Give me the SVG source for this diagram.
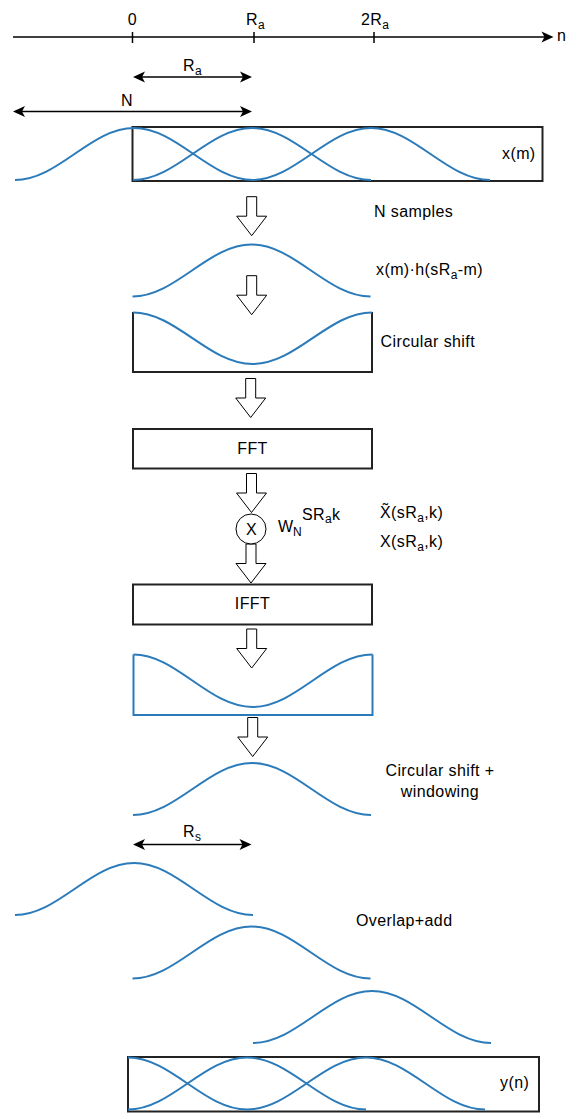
<svg xmlns="http://www.w3.org/2000/svg" xmlns:xlink="http://www.w3.org/1999/xlink" width="578" height="1119" viewBox="0 0 578 1119">
<style>
text{font-family:"Liberation Sans",Arial,sans-serif;font-size:16px;fill:#000;letter-spacing:0.4px}
.sub{font-size:12px}
.ax{stroke:#000;stroke-width:1.5;fill:none}
.box{stroke:#222;stroke-width:2;fill:none}
.wave{stroke:#2b7bba;stroke-width:2;fill:none}
.blk{stroke:#000;stroke-width:1;fill:#fff}
.mid{text-anchor:middle}
</style>
<defs>
<marker id="ah" viewBox="-13 -7 14 14" markerWidth="14" markerHeight="14" refX="-3" refY="0" orient="auto-start-reverse" markerUnits="userSpaceOnUse">
<path d="M0,0 L-12,-5.5 L-9,0 L-12,5.5 Z" fill="#000"/>
</marker>
<path id="bump" d="M0,0 C43.3,0 75.7,-52 119,-52 C162.3,-52 194.7,0 238,0"/>
<path id="harrow" d="M-5,0 L5,0 L5,19.5 L15,19.5 L0,39 L-15,19.5 L-5,19.5 Z"/>
</defs>

<g id="axis">
<line class="ax" x1="13" y1="37" x2="550.5" y2="37" marker-end="url(#ah)"/>
<line class="ax" x1="132.5" y1="32" x2="132.5" y2="43"/>
<line class="ax" x1="254" y1="32" x2="254" y2="43"/>
<line class="ax" x1="374" y1="32" x2="374" y2="43"/>
<text x="132.5" y="25" class="mid">0</text>
<text x="246" y="25">R<tspan class="sub" dy="3.5">a</tspan></text>
<text x="361" y="25">2R<tspan class="sub" dy="3.5">a</tspan></text>
<text x="557" y="41">n</text>
</g>

<g id="connectors">
<line class="ax" x1="136" y1="77" x2="249" y2="77" marker-start="url(#ah)" marker-end="url(#ah)"/>
<line class="ax" x1="16" y1="111.5" x2="249" y2="111.5" marker-start="url(#ah)" marker-end="url(#ah)"/>
<line class="ax" x1="136" y1="844.5" x2="248.5" y2="844.5" marker-start="url(#ah)" marker-end="url(#ah)"/>
<use xlink:href="#harrow" href="#harrow" class="blk" transform="translate(251.7,196.7)"/>
<use xlink:href="#harrow" href="#harrow" class="blk" transform="translate(251.7,275.7)"/>
<use xlink:href="#harrow" href="#harrow" class="blk" transform="translate(250.7,378.5)"/>
<use xlink:href="#harrow" href="#harrow" class="blk" transform="translate(251.5,473.5)"/>
<use xlink:href="#harrow" href="#harrow" class="blk" transform="translate(251,544)"/>
<use xlink:href="#harrow" href="#harrow" class="blk" transform="translate(251.7,629)"/>
<use xlink:href="#harrow" href="#harrow" class="blk" transform="translate(252.7,717.5)"/>
</g>

<g id="labels">
<text x="183" y="71">R<tspan class="sub" dy="3.5">a</tspan></text>
<text x="121" y="106">N</text>
<text x="374" y="217">N samples</text>
<text x="376" y="275">x(m)·h(sR<tspan class="sub" dy="3.5">a</tspan><tspan dy="-3.5">-m)</tspan></text>
<text x="380.5" y="347">Circular shift</text>
<text x="380" y="518">X̃(sR<tspan class="sub" dy="3.5">a</tspan><tspan dy="-3.5">,k)</tspan></text>
<text x="380" y="547">X(sR<tspan class="sub" dy="3.5">a</tspan><tspan dy="-3.5">,k)</tspan></text>
<text><tspan x="278" y="532">W</tspan><tspan class="sub" x="293" y="535.5">N</tspan><tspan x="302" y="519.5">SR</tspan><tspan class="sub" y="523">a</tspan><tspan y="519.5">k</tspan></text>
<text x="440" y="776" class="mid">Circular shift +</text>
<text x="440" y="797" class="mid">windowing</text>
<text x="183" y="837">R<tspan class="sub" dy="3.5">s</tspan></text>
<text x="356" y="926">Overlap+add</text>
</g>

<g id="node-xm">
<rect class="box" x="132.5" y="127" width="410" height="54"/>
<use xlink:href="#bump" href="#bump" class="wave" transform="translate(15,180)"/>
<use xlink:href="#bump" href="#bump" class="wave" transform="translate(133,180)"/>
<use xlink:href="#bump" href="#bump" class="wave" transform="translate(252,180)"/>
<text x="502" y="159">x(m)</text>
</g>

<g id="node-windowed">
<use xlink:href="#bump" href="#bump" class="wave" transform="translate(132.5,296.5)"/>
</g>

<g id="node-circshift">
<path class="box" d="M133,312 V372 H372 V312"/>
<path class="wave" d="M133,312.5 C176.5,312.5 208.5,364 252.5,364 C296.5,364 328.5,312.5 372,312.5"/>
</g>

<g id="node-fft">
<rect class="box" x="133" y="429" width="239" height="39.5"/>
<text x="252.5" y="453.5" class="mid">FFT</text>
</g>

<g id="node-mult">
<circle cx="251" cy="529" r="15" class="blk"/>
<text x="251.5" y="534.5" class="mid">X</text>
</g>

<g id="node-ifft">
<rect class="box" x="133" y="584.5" width="239" height="40"/>
<text x="252.5" y="609" class="mid">IFFT</text>
</g>

<g id="node-ifft-out">
<path class="wave" d="M133.5,654.5 V715 H372.5 V654.5"/>
<path class="wave" d="M133.5,654.5 C176.5,654.5 208.5,707 252.5,707 C296.5,707 328.5,654.5 372.5,654.5"/>
</g>

<g id="node-synth">
<use xlink:href="#bump" href="#bump" class="wave" transform="translate(133,815)"/>
</g>

<g id="node-overlap">
<use xlink:href="#bump" href="#bump" class="wave" transform="translate(15,915)"/>
<use xlink:href="#bump" href="#bump" class="wave" transform="translate(132.5,978.5)"/>
<use xlink:href="#bump" href="#bump" class="wave" transform="translate(253,1043)"/>
</g>

<g id="node-yn">
<rect class="box" x="128" y="1057" width="411" height="54.5"/>
<path class="wave" d="M128,1057.5 C171.3,1057.5 203.7,1109.5 247,1109.5"/>
<use xlink:href="#bump" href="#bump" class="wave" transform="translate(128,1109.5)"/>
<use xlink:href="#bump" href="#bump" class="wave" transform="translate(247,1109.5)"/>
<text x="500" y="1088">y(n)</text>
</g>
</svg>
